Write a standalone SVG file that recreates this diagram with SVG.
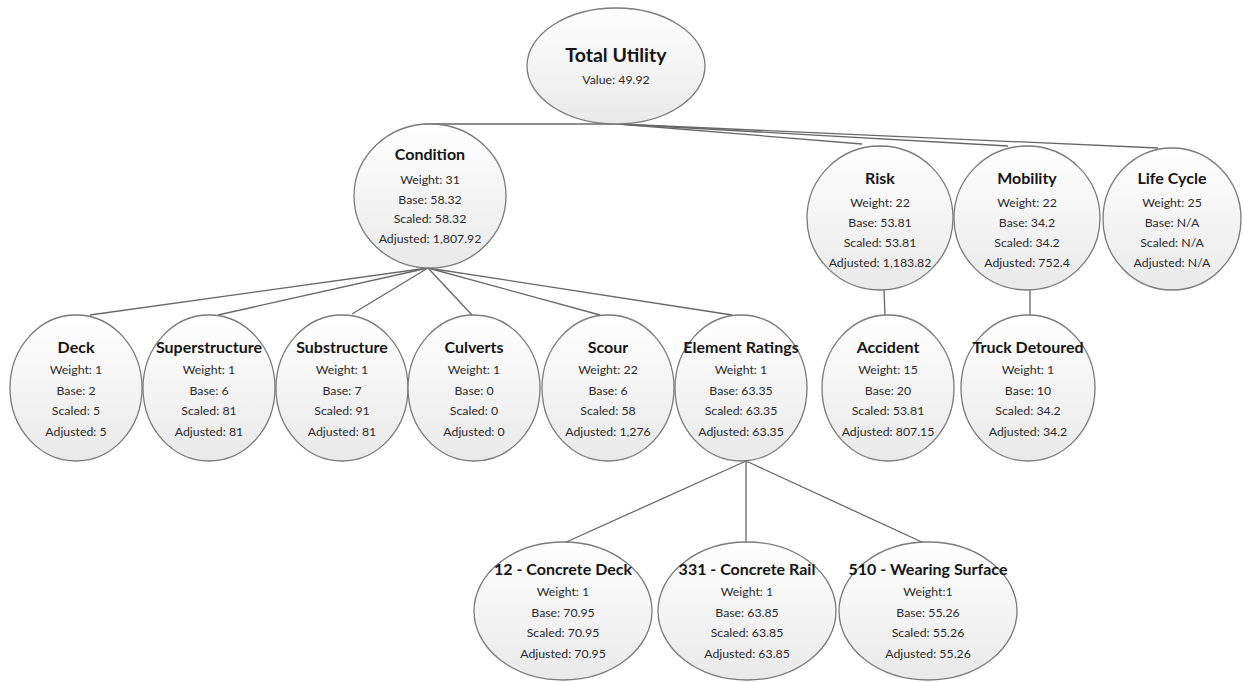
<svg xmlns="http://www.w3.org/2000/svg" width="1243" height="682" viewBox="0 0 1243 682">
  <defs>
    <linearGradient id="nodeFill" x1="0" y1="0" x2="0" y2="1">
      <stop offset="0" stop-color="#ffffff"/>
      <stop offset="1" stop-color="#e9e9e9"/>
    </linearGradient>
    <style>
      .node ellipse { fill: url(#nodeFill); stroke: #7a7a7a; stroke-width: 1.3; }
      .title { font-family: Lato, "Open Sans", sans-serif; font-weight: bold; font-size: 16px; fill: #151515; text-anchor: middle; }
      .big { font-size: 19.5px; }
      .body { font-family: Lato, "Open Sans", sans-serif; font-size: 12.3px; fill: #2b2b2b; text-anchor: middle; }
      .conn line { stroke: #676767; stroke-width: 1.3; fill: none; }
    </style>
  </defs>
  <rect width="1243" height="682" fill="#ffffff"/>

  <!-- connectors -->
  <g id="connectors" class="conn">
    <line x1="618" y1="124" x2="425" y2="124"/>
    <line x1="618" y1="124" x2="862" y2="144"/>
    <line x1="618" y1="124" x2="1008" y2="146"/>
    <line x1="618" y1="124" x2="1158" y2="148"/>
    <line x1="428" y1="268" x2="90" y2="315"/>
    <line x1="428" y1="268" x2="218" y2="315"/>
    <line x1="428" y1="268" x2="352" y2="314"/>
    <line x1="428" y1="268" x2="472" y2="315"/>
    <line x1="428" y1="268" x2="600" y2="315"/>
    <line x1="428" y1="268" x2="732" y2="315"/>
    <line x1="884" y1="290" x2="885" y2="316"/>
    <line x1="1030" y1="290" x2="1030" y2="316"/>
    <line x1="746" y1="461" x2="564" y2="543"/>
    <line x1="746" y1="461" x2="746" y2="542"/>
    <line x1="746" y1="461" x2="924" y2="543"/>
  </g>

  <!-- root -->
  <g id="total-utility" class="node">
    <ellipse cx="616" cy="66" rx="89" ry="58"/>
    <text class="title big" x="616" y="62">Total Utility</text>
    <text class="body" x="616" y="84">Value: 49.92</text>
  </g>

  <!-- first level -->
  <g id="condition" class="node">
    <ellipse cx="430" cy="196" rx="76" ry="72"/>
    <text class="title" x="430" y="160">Condition</text>
    <text class="body" x="430" y="184">Weight: 31</text>
    <text class="body" x="430" y="203.5">Base: 58.32</text>
    <text class="body" x="430" y="223">Scaled: 58.32</text>
    <text class="body" x="430" y="242.5">Adjusted: 1,807.92</text>
  </g>
  <g id="risk" class="node">
    <ellipse cx="880" cy="218" rx="73" ry="72"/>
    <text class="title" x="880" y="184">Risk</text>
    <text class="body" x="880" y="207">Weight: 22</text>
    <text class="body" x="880" y="227">Base: 53.81</text>
    <text class="body" x="880" y="247">Scaled: 53.81</text>
    <text class="body" x="880" y="267">Adjusted: 1,183.82</text>
  </g>
  <g id="mobility" class="node">
    <ellipse cx="1027" cy="218" rx="73" ry="72"/>
    <text class="title" x="1027" y="184">Mobility</text>
    <text class="body" x="1027" y="207">Weight: 22</text>
    <text class="body" x="1027" y="227">Base: 34.2</text>
    <text class="body" x="1027" y="247">Scaled: 34.2</text>
    <text class="body" x="1027" y="267">Adjusted: 752.4</text>
  </g>
  <g id="life-cycle" class="node">
    <ellipse cx="1172" cy="219" rx="69" ry="71"/>
    <text class="title" x="1172" y="184">Life Cycle</text>
    <text class="body" x="1172" y="207">Weight: 25</text>
    <text class="body" x="1172" y="227">Base: N/A</text>
    <text class="body" x="1172" y="247">Scaled: N/A</text>
    <text class="body" x="1172" y="267">Adjusted: N/A</text>
  </g>

  <!-- second level -->
  <g id="deck" class="node">
    <ellipse cx="76" cy="388" rx="66" ry="73"/>
    <text class="title" x="76" y="353">Deck</text>
    <text class="body" x="76" y="374">Weight: 1</text>
    <text class="body" x="76" y="394.5">Base: 2</text>
    <text class="body" x="76" y="415">Scaled: 5</text>
    <text class="body" x="76" y="435.5">Adjusted: 5</text>
  </g>
  <g id="superstructure" class="node">
    <ellipse cx="209" cy="388" rx="66" ry="73"/>
    <text class="title" x="209" y="353">Superstructure</text>
    <text class="body" x="209" y="374">Weight: 1</text>
    <text class="body" x="209" y="394.5">Base: 6</text>
    <text class="body" x="209" y="415">Scaled: 81</text>
    <text class="body" x="209" y="435.5">Adjusted: 81</text>
  </g>
  <g id="substructure" class="node">
    <ellipse cx="342" cy="388" rx="66" ry="73"/>
    <text class="title" x="342" y="353">Substructure</text>
    <text class="body" x="342" y="374">Weight: 1</text>
    <text class="body" x="342" y="394.5">Base: 7</text>
    <text class="body" x="342" y="415">Scaled: 91</text>
    <text class="body" x="342" y="435.5">Adjusted: 81</text>
  </g>
  <g id="culverts" class="node">
    <ellipse cx="474" cy="388" rx="66" ry="73"/>
    <text class="title" x="474" y="353">Culverts</text>
    <text class="body" x="474" y="374">Weight: 1</text>
    <text class="body" x="474" y="394.5">Base: 0</text>
    <text class="body" x="474" y="415">Scaled: 0</text>
    <text class="body" x="474" y="435.5">Adjusted: 0</text>
  </g>
  <g id="scour" class="node">
    <ellipse cx="608" cy="388" rx="66" ry="73"/>
    <text class="title" x="608" y="353">Scour</text>
    <text class="body" x="608" y="374">Weight: 22</text>
    <text class="body" x="608" y="394.5">Base: 6</text>
    <text class="body" x="608" y="415">Scaled: 58</text>
    <text class="body" x="608" y="435.5">Adjusted: 1,276</text>
  </g>
  <g id="element-ratings" class="node">
    <ellipse cx="741" cy="388" rx="66" ry="73"/>
    <text class="title" x="741" y="353">Element Ratings</text>
    <text class="body" x="741" y="374">Weight: 1</text>
    <text class="body" x="741" y="394.5">Base: 63.35</text>
    <text class="body" x="741" y="415">Scaled: 63.35</text>
    <text class="body" x="741" y="435.5">Adjusted: 63.35</text>
  </g>
  <g id="accident" class="node">
    <ellipse cx="888" cy="388" rx="66" ry="73"/>
    <text class="title" x="888" y="353">Accident</text>
    <text class="body" x="888" y="374">Weight: 15</text>
    <text class="body" x="888" y="394.5">Base: 20</text>
    <text class="body" x="888" y="415">Scaled: 53.81</text>
    <text class="body" x="888" y="435.5">Adjusted: 807.15</text>
  </g>
  <g id="truck-detoured" class="node">
    <ellipse cx="1028" cy="388" rx="67" ry="73"/>
    <text class="title" x="1028" y="353">Truck Detoured</text>
    <text class="body" x="1028" y="374">Weight: 1</text>
    <text class="body" x="1028" y="394.5">Base: 10</text>
    <text class="body" x="1028" y="415">Scaled: 34.2</text>
    <text class="body" x="1028" y="435.5">Adjusted: 34.2</text>
  </g>

  <!-- element ratings breakdown -->
  <g id="concrete-deck" class="node">
    <ellipse cx="563" cy="611" rx="89" ry="69"/>
    <text class="title" x="563" y="575">12 - Concrete Deck</text>
    <text class="body" x="563" y="596">Weight: 1</text>
    <text class="body" x="563" y="616.5">Base: 70.95</text>
    <text class="body" x="563" y="637">Scaled: 70.95</text>
    <text class="body" x="563" y="657.5">Adjusted: 70.95</text>
  </g>
  <g id="concrete-rail" class="node">
    <ellipse cx="747" cy="611" rx="89" ry="69"/>
    <text class="title" x="747" y="575">331 - Concrete Rail</text>
    <text class="body" x="747" y="596">Weight: 1</text>
    <text class="body" x="747" y="616.5">Base: 63.85</text>
    <text class="body" x="747" y="637">Scaled: 63.85</text>
    <text class="body" x="747" y="657.5">Adjusted: 63.85</text>
  </g>
  <g id="wearing-surface" class="node">
    <ellipse cx="928" cy="611" rx="89" ry="69"/>
    <text class="title" x="928" y="575">510 - Wearing Surface</text>
    <text class="body" x="928" y="596">Weight:1</text>
    <text class="body" x="928" y="616.5">Base: 55.26</text>
    <text class="body" x="928" y="637">Scaled: 55.26</text>
    <text class="body" x="928" y="657.5">Adjusted: 55.26</text>
  </g>
</svg>
